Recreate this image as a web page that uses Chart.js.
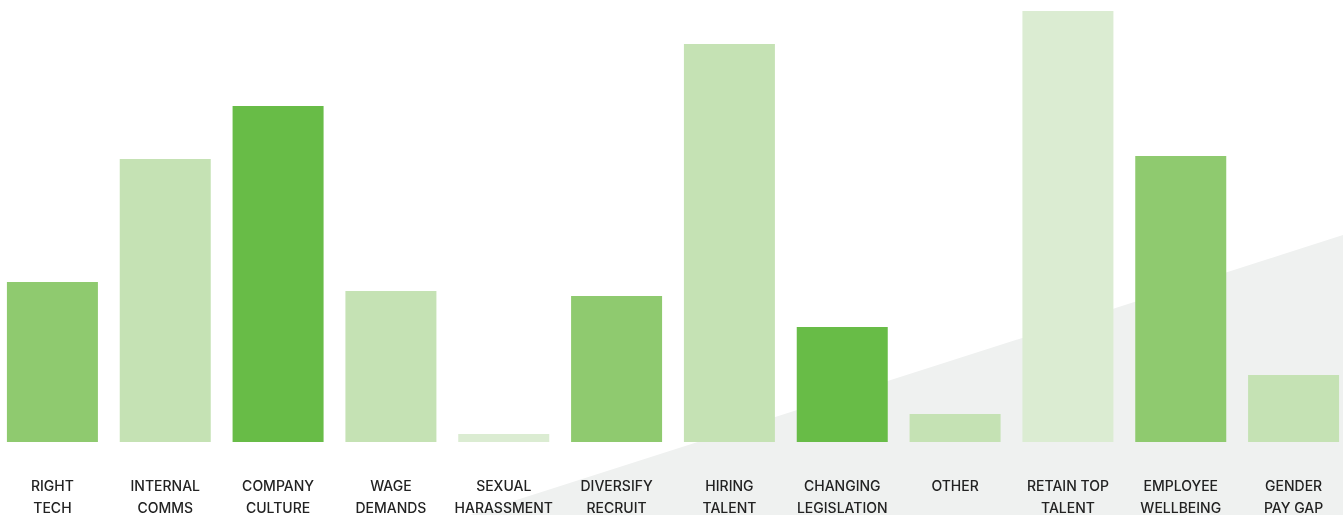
<!DOCTYPE html>
<html>
<head>
<meta charset="utf-8">
<script src="https://cdn.jsdelivr.net/npm/chart.js@4"></script>
<style>
  html, body { margin: 0; padding: 0; background: #ffffff; overflow: hidden; }
  body { width: 1343px; height: 515px; position: relative; }
  #bg { position: absolute; left: 0; top: 0; width: 1343px; height: 515px; background: #eff1f0;
        clip-path: polygon(470px 515px, 1343px 235px, 1343px 515px); }
  #c { position: absolute; left: -4px; top: 0; width: 1354px; height: 554px; }
</style>
</head>
<body>
<div id="bg"></div>
<canvas id="c" width="1354" height="554"></canvas>
<script>
const categories = [
  ["RIGHT", "TECH"],
  ["INTERNAL", "COMMS"],
  ["COMPANY", "CULTURE"],
  ["WAGE", "DEMANDS"],
  ["SEXUAL", "HARASSMENT"],
  ["DIVERSIFY", "RECRUIT"],
  ["HIRING", "TALENT"],
  ["CHANGING", "LEGISLATION"],
  ["OTHER"],
  ["RETAIN TOP", "TALENT"],
  ["EMPLOYEE", "WELLBEING"],
  ["GENDER", "PAY GAP"]
];
const values = [16.0, 28.3, 33.6, 15.1, 0.8, 14.6, 39.8, 11.5, 2.8, 43.1, 28.6, 6.7];
const barColors = [
  "#8fca6f", "#c5e2b4", "#68bc47", "#c5e2b4", "#dbecd2", "#8fca6f",
  "#c5e2b4", "#68bc47", "#c5e2b4", "#dbecd2", "#8fca6f", "#c5e2b4"
];

new Chart(document.getElementById("c"), {
  type: "bar",
  data: {
    labels: categories,
    datasets: [{
      data: values,
      backgroundColor: barColors,
      borderWidth: 0,
      barPercentage: 0.8065,
      categoryPercentage: 1.0
    }]
  },
  options: {
    responsive: false,
    maintainAspectRatio: false,
    animation: false,
    layout: { padding: 0 },
    plugins: { legend: { display: false }, tooltip: { enabled: false } },
    scales: {
      x: {
        afterFit: (s) => { s.paddingLeft = 0; s.paddingRight = 0; },
        grid: { display: false, drawTicks: false },
        border: { display: false },
        ticks: {
          padding: 34,
          color: "#222222",
          maxRotation: 0,
          autoSkip: false,
          font: { family: "Inter", size: 14, weight: "500", lineHeight: "22px" }
        }
      },
      y: {
        display: false,
        min: 0,
        max: 44.2
      }
    }
  }
});
</script>
</body>
</html>
